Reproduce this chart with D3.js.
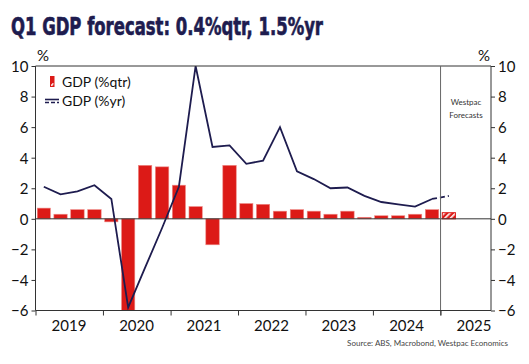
<!DOCTYPE html>
<html><head><meta charset="utf-8">
<script src="https://cdn.jsdelivr.net/npm/d3@7"></script>
<style>
html,body{margin:0;padding:0;background:#fff;}
svg{display:block;}
</style></head>
<body>
<svg id="chart" width="529" height="364"></svg>
<script>
// ---- data ----
const quarters = ["2019Q1","2019Q2","2019Q3","2019Q4","2020Q1","2020Q2","2020Q3","2020Q4",
  "2021Q1","2021Q2","2021Q3","2021Q4","2022Q1","2022Q2","2022Q3","2022Q4",
  "2023Q1","2023Q2","2023Q3","2023Q4","2024Q1","2024Q2","2024Q3","2024Q4","2025Q1"];
const gdpQtr = [0.7,0.3,0.6,0.6,-0.2,-7.0,3.5,3.4,2.2,0.8,-1.7,3.5,1.0,0.95,0.5,0.6,0.5,0.3,0.5,0.1,0.2,0.2,0.3,0.6,0.4];
const gdpYr  = [2.1,1.6,1.8,2.2,1.3,-5.8,-3.2,-0.6,2.1,10.0,4.7,4.8,3.6,3.8,6.0,3.1,2.6,2.0,2.05,1.5,1.1,0.95,0.8,1.3,1.5];
const forecastFrom = "2025Q1";
const yTicks = [-6,-4,-2,0,2,4,6,8,10];
const yearLabels = ["2019","2020","2021","2022","2023","2024","2025"];
const titleText = "Q1 GDP forecast: 0.4%qtr, 1.5%yr";
const sourceText = "Source: ABS, Macrobond, Westpac Economics";
const seriesNames = ["GDP (%qtr)","GDP (%yr)"];
const forecastNote = ["Westpac","Forecasts"];

// ---- helpers ----
const qStart = q => new Date(+q.slice(0,4), (+q.slice(5)-1)*3, 1);
const qEnd = q => new Date(+q.slice(0,4), (+q.slice(5))*3, 1);
const data = quarters.map((q,i)=>({q, s:qStart(q), e:qEnd(q), qtr:gdpQtr[i], yr:gdpYr[i], fc: quarters.indexOf(forecastFrom) <= i}));

const L=35.5, R=491, T=66, B=310.5;
const x = d3.scaleTime().domain([new Date(2019,0,1), new Date(2025,9,1)]).range([L,R]);
const y = d3.scaleLinear().domain([-6,10]).range([B,T]);

const navy="#1e1c4f", red="#dc1a17", axisCol="#333";
const svg = d3.select("#chart");
const defs = svg.append("defs");
defs.append("clipPath").attr("id","plot").append("rect").attr("x",L).attr("y",T).attr("width",R-L).attr("height",B-T);
const pat = defs.append("pattern").attr("id","hatch").attr("patternUnits","userSpaceOnUse")
  .attr("width",4).attr("height",4).attr("patternTransform","rotate(45)");
pat.append("rect").attr("width",4).attr("height",4).attr("fill",red);
pat.append("rect").attr("width",1.6).attr("height",4).attr("fill","#fff");

// title
svg.append("text").attr("x",11).attr("y",35)
  .attr("font-family","'Liberation Sans Narrow','DejaVu Sans Condensed',sans-serif")
  .attr("font-weight","bold").attr("font-size",24).attr("fill",navy)
  .attr("stroke",navy).attr("stroke-width",0.6)
  .attr("textLength",312).attr("lengthAdjust","spacingAndGlyphs").text(titleText);

// bars
const g = svg.append("g").attr("clip-path","url(#plot)");
g.selectAll("rect.bar").data(data).join("rect").attr("class","bar")
  .attr("x",d=>{const a=x(d.s),b=x(d.e);return (a+b)/2-(b-a)*0.395;})
  .attr("width",d=>(x(d.e)-x(d.s))*0.79)
  .attr("y",d=>y(Math.max(0,d.qtr)))
  .attr("height",d=>Math.abs(y(d.qtr)-y(0)))
  .attr("fill",d=>d.fc?"url(#hatch)":red)
  .attr("stroke",d=>d.fc?red:"#ee8a86").attr("stroke-width",d=>d.fc?1:0.6);

// axes frame
const fr = svg.append("g").attr("stroke",axisCol).attr("stroke-width",1).attr("fill","none");
fr.append("line").attr("x1",L).attr("x2",R).attr("y1",T).attr("y2",T);
fr.append("line").attr("x1",L).attr("x2",R).attr("y1",y(0)).attr("y2",y(0));
// forecast divider
svg.append("line").attr("x1",x(qStart(forecastFrom))).attr("x2",x(qStart(forecastFrom)))
  .attr("y1",T).attr("y2",B+5).attr("stroke","#666").attr("stroke-width",1);

// line
const mid = d => x(new Date((+d.s + +d.e)/2));
const fcIdx = quarters.indexOf(forecastFrom);
const line = d3.line().x(mid).y(d=>y(d.yr));
g.append("path").datum(data.slice(0,fcIdx)).attr("d",line)
  .attr("fill","none").attr("stroke",navy).attr("stroke-width",1.8).attr("stroke-linejoin","miter");
g.append("path").datum(data.slice(fcIdx-1)).attr("d",line)
  .attr("fill","none").attr("stroke",navy).attr("stroke-width",1.8).attr("stroke-dasharray","5,3");

const font = "Lato, 'Open Sans', sans-serif";
// left axis
const la = svg.append("g").attr("transform",`translate(${L},0)`)
  .call(d3.axisLeft(y).tickValues(yTicks).tickSize(4).tickPadding(3).tickFormat(d3.format("d")));
la.select(".domain").attr("stroke",axisCol).attr("d",`M0,${T}V${B}`);
la.selectAll("line").attr("stroke",axisCol);
la.selectAll("text").attr("font-family",font).attr("font-size",15).attr("fill","#111").attr("dy","0.36em");
// right axis
const ra = svg.append("g").attr("transform",`translate(${R},0)`)
  .call(d3.axisRight(y).tickValues(yTicks).tickSize(4).tickPadding(3).tickFormat(d3.format("d")));
ra.select(".domain").attr("stroke",axisCol).attr("d",`M0,${T}V${B}`);
ra.selectAll("line").attr("stroke",axisCol);
ra.selectAll("text").attr("font-family",font).attr("font-size",15).attr("fill","#111").attr("dy","0.36em");
// bottom axis
const yearStarts = yearLabels.map(t=>new Date(+t,0,1));
const ba = svg.append("g").attr("transform",`translate(0,${B})`)
  .call(d3.axisBottom(x).tickValues(yearStarts).tickSize(5).tickFormat(""));
ba.select(".domain").attr("stroke",axisCol).attr("d",`M${L},0H${R}`);
ba.selectAll("line").attr("stroke",axisCol);
svg.append("g").selectAll("text").data(yearLabels).join("text")
  .attr("x",t=>x(new Date(+t,6,1))).attr("y",331)
  .attr("text-anchor","middle").attr("font-family",font).attr("font-size",15).attr("fill","#111").text(t=>t);

// % labels
svg.append("text").attr("x",37).attr("y",61).attr("font-family",font).attr("font-size",15).attr("fill","#111").text("%");
svg.append("text").attr("x",490).attr("y",61).attr("text-anchor","end").attr("font-family",font).attr("font-size",15).attr("fill","#111").text("%");

// forecast note
svg.append("g").selectAll("text").data(forecastNote).join("text")
  .attr("x",466).attr("y",(d,i)=>105+i*12.5).attr("text-anchor","middle")
  .attr("font-family",font).attr("font-size",8).attr("fill","#333").text(d=>d);

// legend
svg.append("rect").attr("x",50).attr("y",76).attr("width",4.5).attr("height",6).attr("fill",red);
svg.append("rect").attr("x",50.5).attr("y",82.5).attr("width",3.5).attr("height",4).attr("fill","url(#hatch)").attr("stroke",red).attr("stroke-width",1);
svg.append("line").attr("x1",45).attr("x2",59).attr("y1",99.5).attr("y2",99.5).attr("stroke",navy).attr("stroke-width",1.6);
svg.append("line").attr("x1",45).attr("x2",59).attr("y1",102.5).attr("y2",102.5).attr("stroke",navy).attr("stroke-width",1.6).attr("stroke-dasharray","4,2");
svg.append("g").selectAll("text").data(seriesNames).join("text")
  .attr("x",62).attr("y",(d,i)=>86.5+i*19).attr("font-family",font).attr("font-size",14).attr("fill","#111").text(d=>d);

// source
svg.append("text").attr("x",508).attr("y",346).attr("text-anchor","end")
  .attr("font-family",font).attr("font-size",8).attr("fill","#444").text(sourceText);
</script>
</body></html>
